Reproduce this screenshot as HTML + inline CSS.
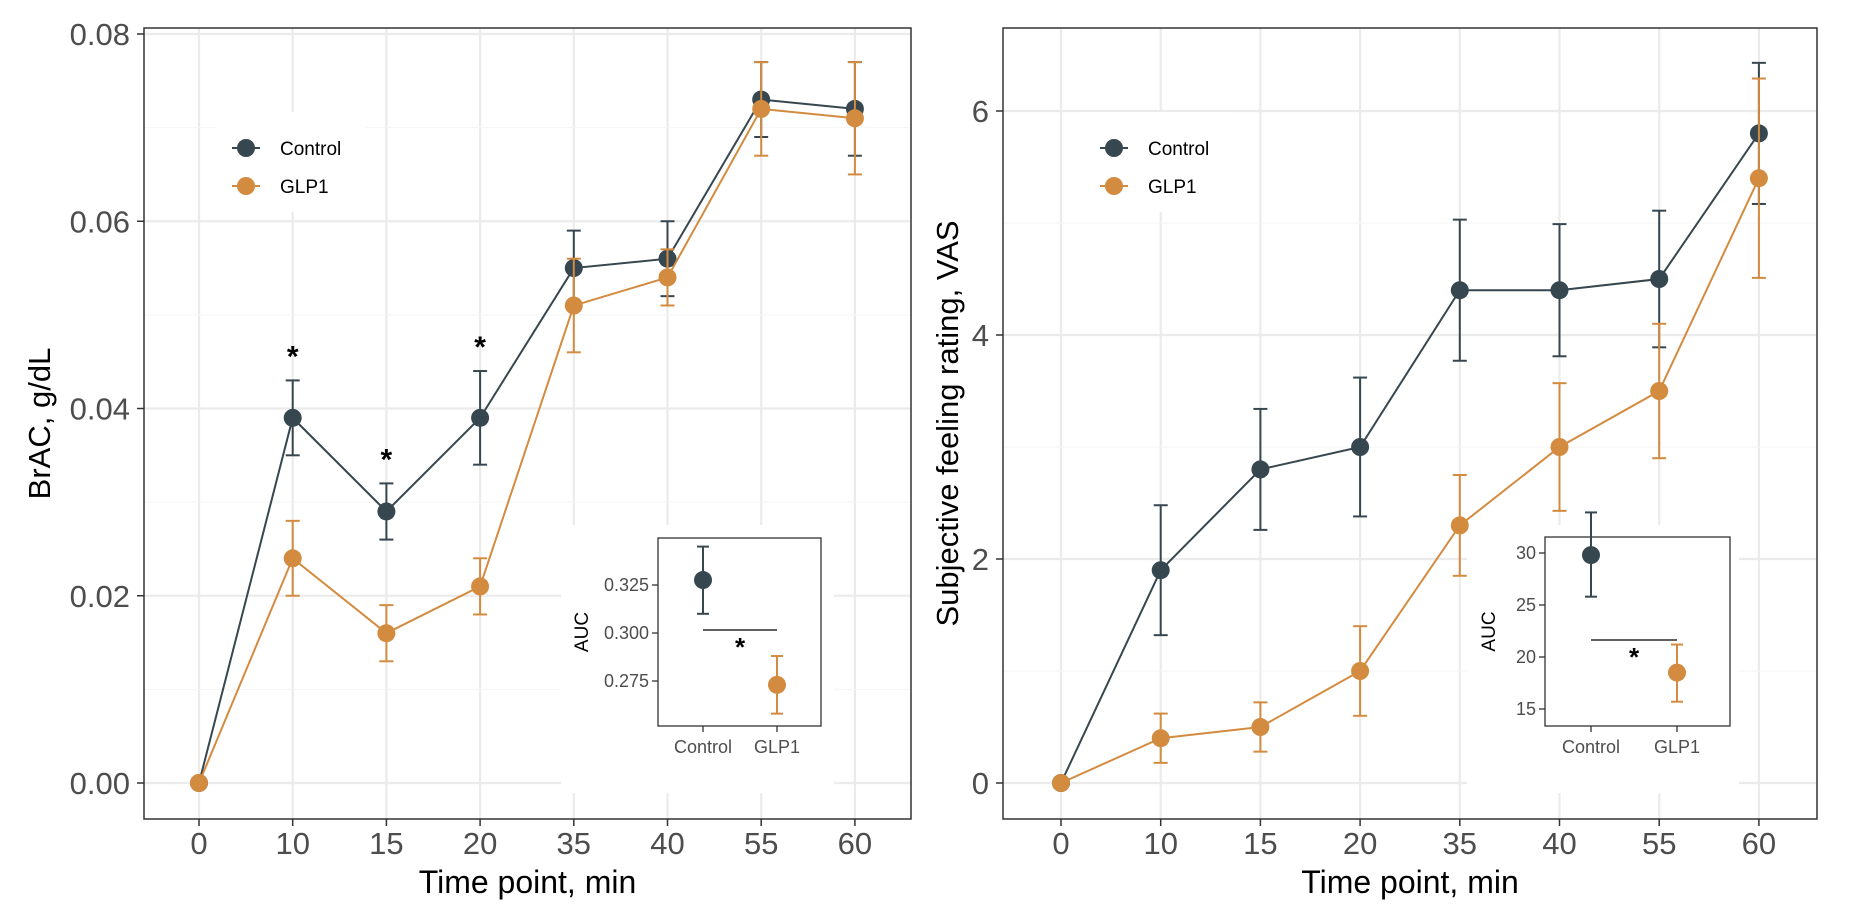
<!DOCTYPE html>
<html><head><meta charset="utf-8"><style>
html,body{margin:0;padding:0;background:#fff;}
svg{display:block;font-family:"Liberation Sans",Arial,sans-serif;}
</style></head><body>
<svg id="chart" width="1855" height="923" viewBox="0 0 1855 923"></svg>
<script>
const categories = ["0","10","15","20","35","40","55","60"];
const brCtrl = [0,0.039,0.029,0.039,0.055,0.056,0.073,0.072];
const brCtrlErr = [0,0.004,0.003,0.005,0.004,0.004,0.004,0.005];
const brGlp = [0,0.024,0.016,0.021,0.051,0.054,0.072,0.071];
const brGlpErr = [0,0.004,0.003,0.003,0.005,0.003,0.005,0.006];
const brTicks = [0,0.02,0.04,0.06,0.08];
const brTickLabels = ["0.00","0.02","0.04","0.06","0.08"];
const brStars = [1,2,3];
const vasCtrl = [0,1.9,2.8,3.0,4.4,4.4,4.5,5.8];
const vasCtrlErr = [0,0.58,0.54,0.62,0.63,0.59,0.61,0.63];
const vasGlp = [0,0.4,0.5,1.0,2.3,3.0,3.5,5.4];
const vasGlpErr = [0,0.22,0.22,0.4,0.45,0.57,0.6,0.89];
const vasTicks = [0,2,4,6];
const vasTickLabels = ["0","2","4","6"];
const groups = ["Control","GLP1"];
const brAuc = [0.3276,0.273];
const brAucLo = [0.310,0.258];
const brAucHi = [0.345,0.288];
const brAucTicks = [0.275,0.300,0.325];
const brAucTickLabels = ["0.275","0.300","0.325"];
const vasAuc = [29.8,18.5];
const vasAucLo = [25.8,15.7];
const vasAucHi = [33.9,21.2];
const vasAucTicks = [15,20,25,30];
const vasAucTickLabels = ["15","20","25","30"];

const NS="http://www.w3.org/2000/svg";
const svg=document.getElementById('chart');
const CC="#37474f", CG="#d38b40";
function el(tag,attrs,parent,text){const e=document.createElementNS(NS,tag);for(const k in attrs)e.setAttribute(k,attrs[k]);if(text!==undefined)e.textContent=text;(parent||svg).appendChild(e);return e;}

function panel(o){
  const g=el('g',{});
  
  
  const x=i=>o.x0+i*o.dx;
  const y=v=>o.y0+(v-o.vmin)*o.ky;
  for(let i=0;i<categories.length;i++){const l=el('line',{x1:x(i),x2:x(i),y1:o.top,y2:o.bottom,stroke:"#ebebeb","stroke-width":2.2},g);}
  o.ticks.forEach(t=>{const l=el('line',{x1:o.left,x2:o.right,y1:y(t),y2:y(t),stroke:"#ebebeb","stroke-width":2.2},g);});
  for(let k=0;k<o.ticks.length-1;k++){const m=(o.ticks[k]+o.ticks[k+1])/2;const l=el('line',{x1:o.left,x2:o.right,y1:y(m),y2:y(m),stroke:"#f5f5f5","stroke-width":1.1},g);}
  el('rect',{x:o.legX-30,y:112,width:150,height:100,fill:"#fff"},g);
  el('rect',{x:o.insBgX,y:525,width:o.insBgW,height:268,fill:"#fff"},g);
  const b=el('rect',{x:o.left,y:o.top,width:o.right-o.left,height:o.bottom-o.top,fill:"none",stroke:"#333","stroke-width":1.5},g);
  
  o.ticks.forEach((t,i)=>{el('line',{x1:o.left-7,x2:o.left,y1:y(t),y2:y(t),stroke:"#333","stroke-width":1.5},g);
    const tx=el('text',{x:o.left-14,y:y(t)+11,"text-anchor":"end","font-size":31,fill:"#4d4d4d"},g,o.tickLabels[i]);
    });
  categories.forEach((c,i)=>{el('line',{x1:x(i),x2:x(i),y1:o.bottom,y2:o.bottom+7,stroke:"#333","stroke-width":1.5},g);
    const tx=el('text',{x:x(i),y:854,"text-anchor":"middle","font-size":31,fill:"#4d4d4d"},g,c);
    });
  const xt=el('text',{x:(o.left+o.right)/2,y:893,"text-anchor":"middle","font-size":32,fill:"#000"},g,"Time point, min");
  
  const yt=el('text',{x:0,y:0,transform:`translate(${o.ytx},${(o.top+o.bottom)/2}) rotate(-90)`,"text-anchor":"middle","font-size":31,fill:"#000"},g,o.ytitle);
  
  [[o.c,o.ce,CC,'control'],[o.gl,o.ge,CG,'glp1']].forEach(([vals,errs,col,nm])=>{
    const sg=el('g',{},g);
    vals.forEach((v,i)=>{if(errs[i]>0){el('line',{x1:x(i),x2:x(i),y1:y(v-errs[i]),y2:y(v+errs[i]),stroke:col,"stroke-width":2},sg);
      [v-errs[i],v+errs[i]].forEach(e=>el('line',{x1:x(i)-7,x2:x(i)+7,y1:y(e),y2:y(e),stroke:col,"stroke-width":2},sg));}});
    const pl=el('polyline',{points:vals.map((v,i)=>x(i)+','+y(v)).join(' '),fill:"none",stroke:col,"stroke-width":2},sg);
    
    vals.forEach((v,i)=>{const c=el('circle',{cx:x(i),cy:y(v),r:9,fill:col},sg);});
  });
  if(o.stars) o.stars.forEach(i=>{const s=el('text',{x:x(i),y:y(o.c[i]+o.ce[i])-14,"text-anchor":"middle","font-size":30,"font-weight":"bold",fill:"#000"},g,"*");});
  const lg=el('g',{},g);
  [[CC,"Control",148],[CG,"GLP1",186]].forEach(([col,t,yy])=>{
    el('line',{x1:o.legX-14,x2:o.legX+14,y1:yy,y2:yy,stroke:col,"stroke-width":2},lg);
    el('circle',{cx:o.legX,cy:yy,r:9,fill:col},lg);
    const tx=el('text',{x:o.legX+34,y:yy+7,"font-size":19,fill:"#000"},lg,t);
    });
  const ig=el('g',{},g);
  const I=o.inset;
  const iy=v=>I.yA+(v-I.vA)*(I.yB-I.yA)/(I.vB-I.vA);
  el('rect',{x:I.l,y:I.t,width:I.r-I.l,height:I.b-I.t,fill:"#fff",stroke:"#333","stroke-width":1.3},ig);
  I.ticks.forEach((t,i)=>{el('line',{x1:I.l-6,x2:I.l,y1:iy(t),y2:iy(t),stroke:"#333","stroke-width":1.3},ig);
    const tx=el('text',{x:I.l-9,y:iy(t)+6,"text-anchor":"end","font-size":18,fill:"#4d4d4d"},ig,I.labels[i]);});
  groups.forEach((gname,i)=>{const gx=I.gx[i];const col=i?CG:CC;
    el('line',{x1:gx,x2:gx,y1:I.b,y2:I.b+6,stroke:"#333","stroke-width":1.3},ig);
    const tx=el('text',{x:gx,y:I.b+27,"text-anchor":"middle","font-size":18,fill:"#4d4d4d"},ig,gname);
    el('line',{x1:gx,x2:gx,y1:iy(I.lo[i]),y2:iy(I.hi[i]),stroke:col,"stroke-width":2},ig);
    [I.lo[i],I.hi[i]].forEach(e=>el('line',{x1:gx-6,x2:gx+6,y1:iy(e),y2:iy(e),stroke:col,"stroke-width":2},ig));
    const c=el('circle',{cx:gx,cy:iy(I.v[i]),r:9,fill:col},ig);});
  el('line',{x1:I.gx[0],x2:I.gx[1],y1:I.sig,y2:I.sig,stroke:"#000","stroke-width":1.3},ig);
  el('text',{x:(I.gx[0]+I.gx[1])/2,y:I.sig+26,"text-anchor":"middle","font-size":26,"font-weight":"bold",fill:"#000"},ig,"*");
  const at=el('text',{x:0,y:0,transform:`translate(${I.l-I.atOff},${(I.t+I.b)/2}) rotate(-90)`,"text-anchor":"middle","font-size":19,fill:"#000"},ig,"AUC");
  
}

panel({name:'brac-panel',left:144,right:911,top:28,bottom:819,x0:199,dx:93.7,y0:783,vmin:0,ky:-187.25/0.02,
  ticks:brTicks,tickLabels:brTickLabels,c:brCtrl,ce:brCtrlErr,gl:brGlp,ge:brGlpErr,stars:brStars,
  ytitle:"BrAC, g/dL",ytx:50,legX:246,insBgX:561,insBgW:273,
  inset:{l:658,r:821,t:538,b:726,vA:0.325,yA:585,vB:0.300,yB:633,ticks:brAucTicks,labels:brAucTickLabels,
    gx:[703,777],v:brAuc,lo:brAucLo,hi:brAucHi,sig:630,atOff:70}});

panel({name:'vas-panel',left:1003,right:1817,top:28,bottom:819,x0:1061,dx:99.7,y0:783,vmin:0,ky:-112,
  ticks:vasTicks,tickLabels:vasTickLabels,c:vasCtrl,ce:vasCtrlErr,gl:vasGlp,ge:vasGlpErr,stars:null,
  ytitle:"Subjective feeling rating,  VAS",ytx:958,legX:1114,insBgX:1467,insBgW:272,
  inset:{l:1545,r:1730,t:537,b:726,vA:30,yA:553,vB:15,yB:709,ticks:vasAucTicks,labels:vasAucTickLabels,
    gx:[1591,1677],v:vasAuc,lo:vasAucLo,hi:vasAucHi,sig:640,atOff:50}});
</script>
</body></html>
